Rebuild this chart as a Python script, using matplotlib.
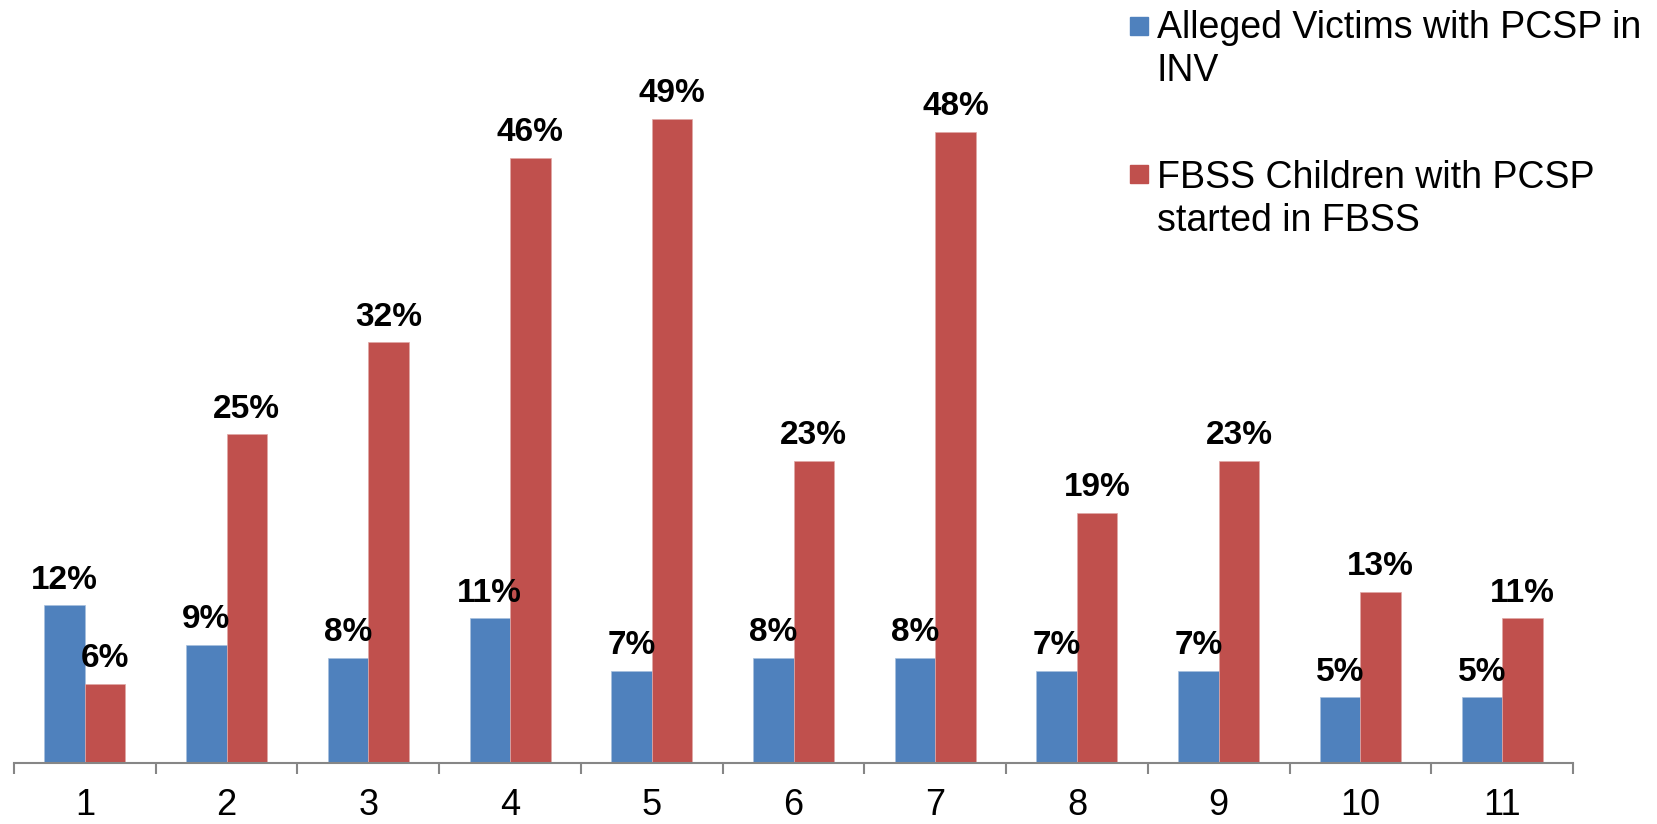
import matplotlib
matplotlib.use('Agg')
import matplotlib.pyplot as plt
import numpy as np
from matplotlib.patches import Rectangle

plt.rcParams['font.family'] = ['Liberation Sans', 'DejaVu Sans']

categories = ['1', '2', '3', '4', '5', '6', '7', '8', '9', '10', '11']
inv_pct = [12, 9, 8, 11, 7, 8, 8, 7, 7, 5, 5]
fbss_pct = [6, 25, 32, 46, 49, 23, 48, 19, 23, 13, 11]
series_names = ['Alleged Victims with PCSP in\nINV',
                'FBSS Children with PCSP\nstarted in FBSS']
colors = ['#4F81BD', '#C0504D']

W, H = 1657, 824
fig = plt.figure(figsize=(W / 100, H / 100), dpi=100)
ax = fig.add_axes([14 / W, 61 / H, 1559 / W, 657.5 / H])

x = np.arange(len(categories))
w = 0.286
b1 = ax.bar(x - w / 2, inv_pct, w, color=colors[0], edgecolor='#A7C0DE', linewidth=0.5)
b2 = ax.bar(x + w / 2, fbss_pct, w, color=colors[1], edgecolor='#E0A8A6', linewidth=0.5)

for bars, vals in ((b1, inv_pct), (b2, fbss_pct)):
    for rect, v in zip(bars, vals):
        ax.annotate(f'{v}%', (rect.get_x() + rect.get_width() / 2, v),
                    xytext=(0, 12), textcoords='offset points',
                    ha='center', va='baseline', fontsize=24, fontweight='bold')

ax.set_xlim(-0.5, len(categories) - 0.5)
ax.set_ylim(0, 50)
ax.set_yticks([])
for s in ('left', 'right', 'top'):
    ax.spines[s].set_visible(False)
ax.spines['bottom'].set_color('#868686')
ax.spines['bottom'].set_linewidth(1.5)

# boundary ticks between categories, labels centred on categories
ax.set_xticks(np.arange(len(categories) + 1) - 0.5)
ax.set_xticklabels([])
ax.tick_params(axis='x', which='major', length=8, width=1.5, color='#868686', direction='out')
ax.set_xticks(x, minor=True)
ax.set_xticklabels(categories, minor=True, fontsize=26)
ax.tick_params(axis='x', which='minor', length=0, pad=18)

# legend on the right, marker level with the first line of each entry
for i, (name, c) in enumerate(zip(series_names, colors)):
    top = [17, 165][i]
    fig.add_artist(Rectangle((1130 / W, 1 - (top + 18) / H), 18 / W, 18 / H,
                             transform=fig.transFigure, color=c))
    base = [38, 188][i]
    for j, line in enumerate(name.split('\n')):
        fig.text(1157 / W, 1 - (base + 43 * j) / H, line, fontsize=27,
                 va='baseline', ha='left')

fig.savefig('out.png', dpi=100)
